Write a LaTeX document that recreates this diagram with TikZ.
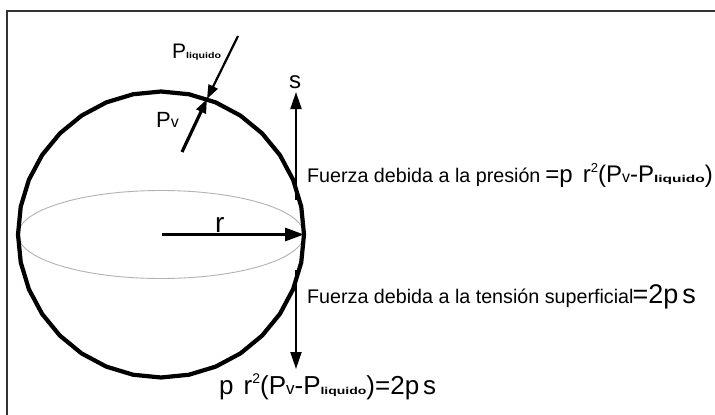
\documentclass[tikz,border=0pt]{standalone}
\usepackage{graphicx}
\usepackage{fontspec}
\setmainfont{Liberation Sans}
\usetikzlibrary{arrows.meta}
\newcommand{\fsz}[2]{{\fontsize{#1}{#1}\selectfont #2}}
\newcommand{\liq}[2]{\scalebox{#2}[1]{\fontsize{#1}{#1}\selectfont\bfseries liquido}}
\begin{document}
\begin{tikzpicture}[x=1pt,y=-1pt,
  frame/.style={draw=black!80, line width=1.2pt},
  sphere/.style={line width=4.2pt, line join=round},
  equator/.style={draw=black!30, line width=0.9pt},
  vecarrow/.style={line width=2pt, -{Triangle[length=17pt,width=11pt]}},
  radarrow/.style={line width=3pt, -{Triangle[length=19pt,width=13pt]}},
  parrow/.style={line width=2.2pt, -{Triangle[length=14pt,width=10pt]}},
  lbl/.style={inner sep=0pt, anchor=base west}]
\useasboundingbox (0,0) rectangle (715,415);
\fill[white] (0,0) rectangle (715,415);
% frame
\coordinate (fA) at (715,11);
\coordinate (fB) at (7,11);
\coordinate (fC) at (7,415);
\draw[frame] (fA) -- (fB) -- (fC);
% sphere
\coordinate (O) at (161,234.5);
\draw[equator] (O) ellipse [x radius=143pt, y radius=44pt];
\draw[sphere] (304,234.5) \foreach \a in {11.25,22.5,...,348.75} { -- ({161+143*cos(\a)},{234.5+143*sin(\a)}) } -- cycle;
% radius
\coordinate (R) at (304,234.5);
\coordinate (Rs) at (162,234.5);
\draw[radarrow] (Rs) -- (R);
\node[lbl] (r) at (215,232) {\fsz{28}{r}};
% pressure arrows
\coordinate (T) at (207,99);
\coordinate (Ltop) at (238,36);
\coordinate (Vbot) at (182,152);
\draw[parrow] (Ltop) -- (T);
\draw[parrow, line width=3.2pt] (Vbot) -- (T);
\node[lbl] (pl) at (172,58) {\fsz{21}{P}\liq{8.5}{1.25}};
\node[lbl] (pv) at (156,127) {\fsz{22}{P}\fsz{16}{v}};
% tension arrows
\coordinate (Us) at (296,200);
\coordinate (Ut) at (296,92);
\coordinate (Ds) at (296,270);
\coordinate (Dt) at (296,369);
\draw[vecarrow] (Us) -- (Ut);
\draw[vecarrow] (Ds) -- (Dt);
\node[lbl, anchor=base] (s) at (295,88) {\fsz{24}{s}};
% texts
\node[lbl] (fp) at (307,182) {\fsz{19.7}{Fuerza debida a la presión}};
\node[lbl, anchor=base east] (fpeq) at (713,182) {\fsz{24}{=p\hspace{10pt}r}\raisebox{10pt}{\fsz{13}{2}}\fsz{24}{(P}\fsz{16}{v}\fsz{24}{-P}\liq{10}{1.55}\fsz{24}{)}};
\node[lbl] (ft) at (307,303) {\fsz{19.7}{Fuerza debida a la tensión superficial}};
\node[lbl, anchor=base east] (fteq) at (696,303) {\fsz{27}{=2p\hspace{4pt}s}};
\node[lbl] (eq) at (219,394) {\fsz{26}{p\hspace{10pt}r}\raisebox{11pt}{\fsz{14}{2}}\fsz{26}{(P}\fsz{17}{v}\fsz{26}{-P}\liq{10}{1.4}\fsz{26}{)=2p\hspace{4pt}s}};
\end{tikzpicture}
\end{document}
